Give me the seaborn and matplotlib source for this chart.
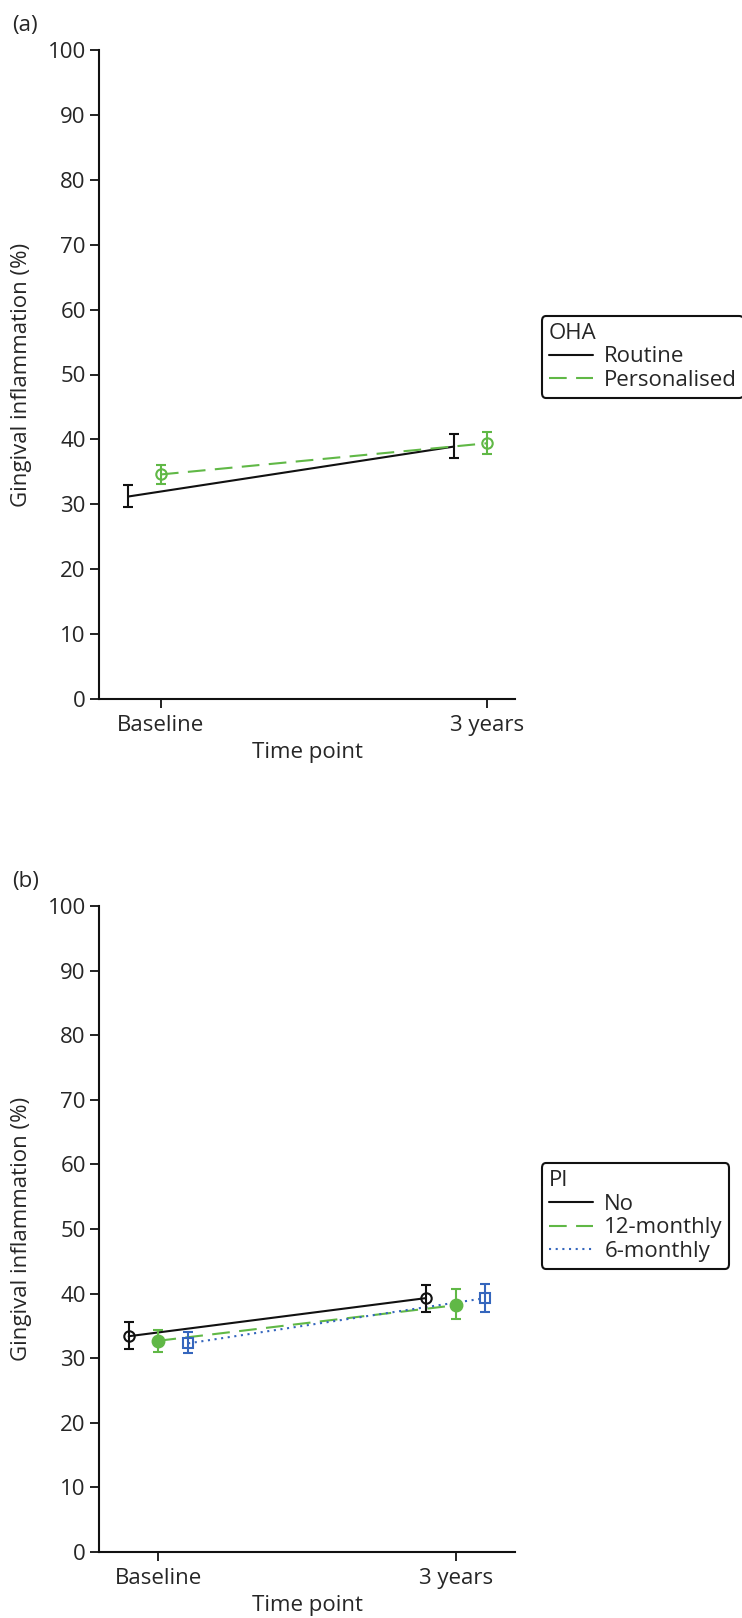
import numpy as np
import pandas as pd
import matplotlib
matplotlib.use("Agg")
import matplotlib.pyplot as plt
import seaborn as sns
from matplotlib.lines import Line2D

# ---- data -------------------------------------------------------------
time_labels = ["Baseline", "3 years"]

# (a) oral hygiene advice
oha_groups = ["Routine", "Personalised"]
oha_routine_mean = [31.2, 38.9]
oha_routine_low = [29.6, 37.2]
oha_routine_high = [32.9, 40.9]
oha_personal_mean = [34.6, 39.4]
oha_personal_low = [33.2, 37.8]
oha_personal_high = [36.1, 41.2]

# (b) periodic instrumentation
pi_groups = ["No", "12-monthly", "6-monthly"]
pi_no_mean = [33.4, 39.3]
pi_no_low = [31.5, 37.2]
pi_no_high = [35.6, 41.3]
pi_12_mean = [32.7, 38.2]
pi_12_low = [30.9, 36.0]
pi_12_high = [34.4, 40.7]
pi_6_mean = [32.3, 39.3]
pi_6_low = [30.8, 37.1]
pi_6_high = [34.0, 41.5]

y_ticks = list(range(0, 101, 10))

# ---- style ------------------------------------------------------------
sns.set_theme(style="ticks")
plt.rcParams["font.family"] = ["Open Sans", "DejaVu Sans"]
plt.rcParams["axes.linewidth"] = 1.5
FS = 16

GREEN = "#60b846"
BLUE = "#3566bd"
BLACK = "#111111"


def build_frame(groups, means, lows, highs):
    rows = []
    for g, m, lo, hi in zip(groups, means, lows, highs):
        for t, (mv, lv, hv) in enumerate(zip(m, lo, hi)):
            rows.append({"group": g, "time": t, "mean": mv, "low": lv, "high": hv})
    return pd.DataFrame(rows)


def draw_panel(ax, df, groups, offsets, styles, legend_title, legend_y, xlim):
    for g, off in zip(groups, offsets):
        st = styles[g]
        sub = df[df["group"] == g].copy()
        sub["pos"] = sub["time"] + off
        sns.lineplot(data=sub, x="pos", y="mean", ax=ax, estimator=None,
                     errorbar=None, sort=False, color=st["color"],
                     linewidth=1.5, dashes=False, legend=False,
                     **st["line"])
        ax.errorbar(sub["pos"], sub["mean"],
                    yerr=[sub["mean"] - sub["low"], sub["high"] - sub["mean"]],
                    fmt="none", ecolor=st["color"], elinewidth=1.5,
                    capsize=3.8, capthick=1.5, zorder=3)
        if st.get("marker"):
            ax.plot(sub["pos"], sub["mean"], linestyle="none", zorder=4,
                    **st["marker"])

    ax.set_xlim(*xlim)
    ax.set_ylim(0, 100)
    ax.set_yticks(y_ticks)
    ax.set_xticks(range(len(time_labels)))
    ax.set_xticklabels(time_labels)
    ax.tick_params(axis="both", labelsize=FS, length=6.5, width=1.3,
                   direction="out", color=BLACK)
    ax.tick_params(axis="x", pad=5)
    ax.tick_params(axis="y", pad=3)
    ax.set_xlabel("Time point", fontsize=FS, labelpad=4)
    ax.set_ylabel("Gingival inflammation (%)", fontsize=FS, labelpad=11)
    sns.despine(ax=ax)
    for s in ("left", "bottom"):
        ax.spines[s].set_color(BLACK)

    handles = []
    for g in groups:
        st = styles[g]
        handles.append(Line2D([], [], color=st["color"], linewidth=1.5,
                              **st["line"]))
    leg = ax.legend(handles, groups, title=legend_title, loc="center left",
                    bbox_to_anchor=(1.065, legend_y), fontsize=FS,
                    title_fontsize=FS, frameon=True, fancybox=True,
                    framealpha=1, edgecolor=BLACK, borderpad=0.3,
                    labelspacing=0.12, handletextpad=0.5, handlelength=2.0,
                    borderaxespad=0, alignment="left")
    leg.get_frame().set_linewidth(1.5)


fig = plt.figure(figsize=(7.42, 16.18), dpi=100)
W, H = 742, 1618
ax_a = fig.add_axes([99 / W, 1 - 699 / H, 416 / W, 649 / H])
ax_b = fig.add_axes([99 / W, 1 - 1552 / H, 416 / W, 646 / H])

df_a = build_frame(oha_groups,
                   [oha_routine_mean, oha_personal_mean],
                   [oha_routine_low, oha_personal_low],
                   [oha_routine_high, oha_personal_high])
styles_a = {
    "Routine": {"color": BLACK, "line": {"linestyle": "-"}},
    "Personalised": {"color": GREEN, "line": {"linestyle": (0, (8.5, 4.5))},
                     "marker": {"marker": "o", "markersize": 7.5,
                                "markerfacecolor": "none",
                                "markeredgecolor": GREEN,
                                "markeredgewidth": 1.5}},
}
draw_panel(ax_a, df_a, oha_groups, [-0.1, 0.0], styles_a, "OHA", 0.527,
           (-0.19, 1.087))

df_b = build_frame(pi_groups,
                   [pi_no_mean, pi_12_mean, pi_6_mean],
                   [pi_no_low, pi_12_low, pi_6_low],
                   [pi_no_high, pi_12_high, pi_6_high])
styles_b = {
    "No": {"color": BLACK, "line": {"linestyle": "-"},
           "marker": {"marker": "o", "markersize": 7.5,
                      "markerfacecolor": "none", "markeredgecolor": BLACK,
                      "markeredgewidth": 1.5}},
    "12-monthly": {"color": GREEN, "line": {"linestyle": (0, (8.5, 4.5))},
                   "marker": {"marker": "o", "markersize": 9,
                              "markerfacecolor": GREEN,
                              "markeredgecolor": GREEN}},
    "6-monthly": {"color": BLUE, "line": {"linestyle": (0, (1, 2.2))},
                  "marker": {"marker": "s", "markersize": 7.5,
                             "markerfacecolor": "none",
                             "markeredgecolor": BLUE,
                             "markeredgewidth": 1.5}},
}
draw_panel(ax_b, df_b, pi_groups, [-0.1, 0.0, 0.1], styles_b, "PI", 0.52,
           (-0.2, 1.2))

fig.text(12 / W, 1 - 26 / H, "(a)", fontsize=FS, va="center", ha="left")
fig.text(12 / W, 1 - 882 / H, "(b)", fontsize=FS, va="center", ha="left")

fig.savefig("out.png", dpi=100, facecolor="white")
